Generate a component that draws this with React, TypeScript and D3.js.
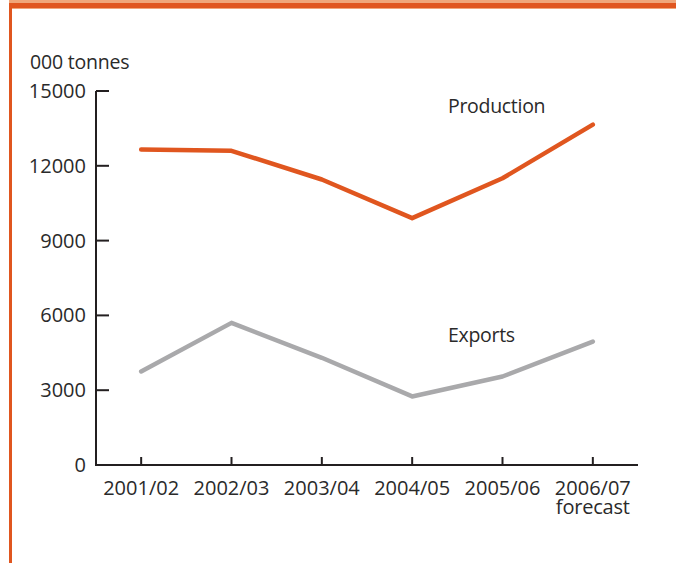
import React from "react";
import * as d3 from "d3";

// Marketing years on the horizontal axis
const seasons = ["2001/02", "2002/03", "2003/04", "2004/05", "2005/06", "2006/07"];
// Thousand tonnes
const production = [12650, 12600, 11450, 9900, 11500, 13650];
const exportsSeries = [3750, 5700, 4300, 2750, 3550, 4950];
const yTicks = [0, 3000, 6000, 9000, 12000, 15000];

const W = 676;
const H = 563;
const ORANGE = "#e0561f";
const GREY = "#a9a9ab";
const INK = "#231f20";
const TEXT = "#2a2a2a";
const FONT = "'Open Sans', 'Noto Sans', sans-serif";

export default function App() {
  const x = d3.scalePoint<string>().domain(seasons).range([96, 638]).padding(0.5);
  const y = d3.scaleLinear().domain([0, 15000]).range([465, 91]);

  const line = d3
    .line<number>()
    .x((_, i) => x(seasons[i]) as number)
    .y((d) => y(d));

  const last = seasons[seasons.length - 1];

  return (
    <svg
      width={W}
      height={H}
      style={{ position: "absolute", left: 0, top: 0, background: "#fff" }}
      fontFamily={FONT}
    >
      {/* frame: banded top rule and left rule */}
      <rect x={9} y={0} width={W - 9} height={9} fill="#f0a679" />
      <rect x={9} y={3} width={W - 9} height={5} fill={ORANGE} />
      <rect x={9} y={3} width={3} height={H - 3} fill={ORANGE} />

      {/* y axis */}
      <line x1={96} x2={96} y1={y(15000)} y2={y(0) + 1} stroke={INK} strokeWidth={2} />
      {yTicks.map((t) => (
        <g key={t}>
          <line x1={96} x2={109} y1={y(t)} y2={y(t)} stroke={INK} strokeWidth={2} />
          <text x={86} y={y(t) + 7} textAnchor="end" fontSize={20} fill={TEXT}>
            {t}
          </text>
        </g>
      ))}
      <text x={30} y={69} fontSize={19.5} letterSpacing={-0.2} fill={TEXT}>
        000 tonnes
      </text>

      {/* x axis */}
      <line x1={95} x2={638} y1={y(0)} y2={y(0)} stroke={INK} strokeWidth={2} />
      {seasons.map((s) => (
        <g key={s}>
          <line
            x1={x(s) as number}
            x2={x(s) as number}
            y1={y(0)}
            y2={y(0) - 8}
            stroke={INK}
            strokeWidth={2}
          />
          <text x={x(s) as number} y={494.5} textAnchor="middle" fontSize={20} fill={TEXT}>
            <tspan x={x(s) as number}>{s}</tspan>
            {s === last && (
              <tspan x={x(s) as number} dy={19} letterSpacing={-0.2}>
                forecast
              </tspan>
            )}
          </text>
        </g>
      ))}

      {/* series */}
      <path d={line(exportsSeries) ?? ""} fill="none" stroke={GREY} strokeWidth={4.5} strokeLinecap="round" strokeLinejoin="round" />
      <path d={line(production) ?? ""} fill="none" stroke={ORANGE} strokeWidth={4.5} strokeLinecap="round" strokeLinejoin="round" />

      <text x={448} y={113} fontSize={19.5} letterSpacing={-0.3} fill={TEXT}>
        Production
      </text>
      <text x={448} y={342} fontSize={19.5} letterSpacing={-0.3} fill={TEXT}>
        Exports
      </text>
    </svg>
  );
}
